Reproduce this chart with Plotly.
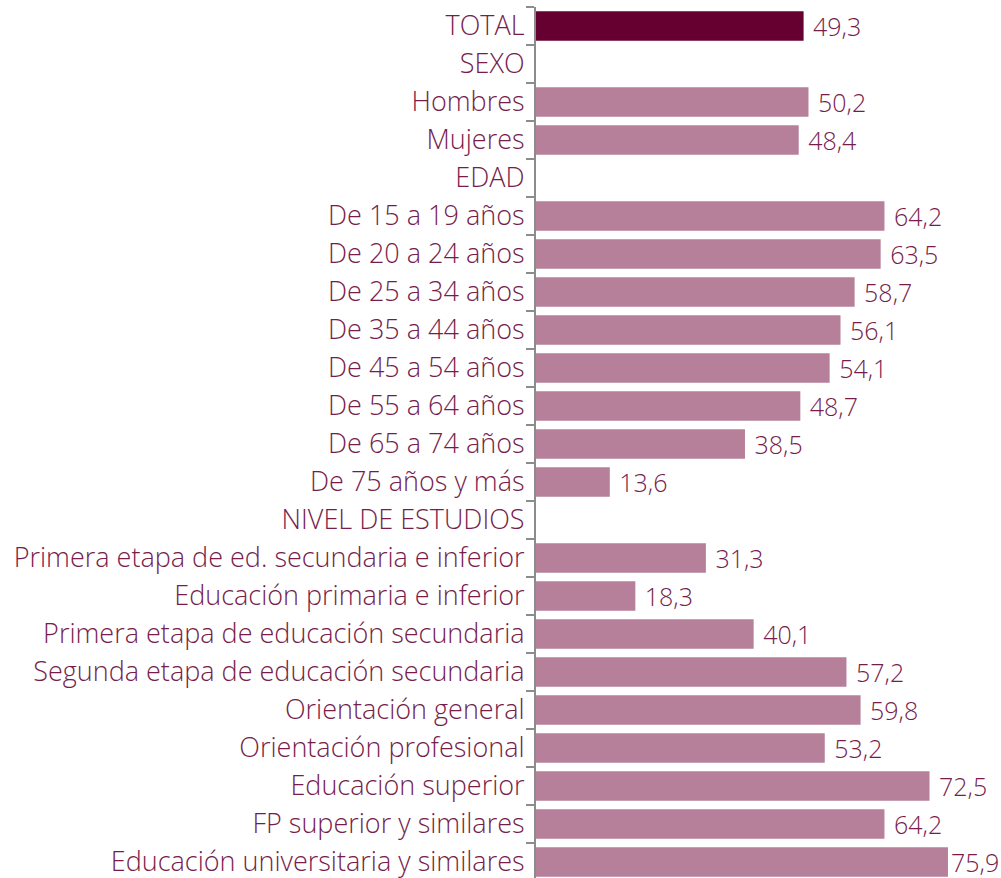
import plotly.graph_objects as go

categories = [
    "TOTAL", "SEXO", "Hombres", "Mujeres", "EDAD",
    "De 15 a 19 años", "De 20 a 24 años", "De 25 a 34 años", "De 35 a 44 años",
    "De 45 a 54 años", "De 55 a 64 años", "De 65 a 74 años", "De 75 años y más",
    "NIVEL DE ESTUDIOS",
    "Primera etapa de ed. secundaria e inferior",
    "Educación primaria e inferior",
    "Primera etapa de educación secundaria",
    "Segunda etapa de educación secundaria",
    "Orientación general",
    "Orientación profesional",
    "Educación superior",
    "FP superior y similares",
    "Educación universitaria y similares",
]
values = [
    49.3, None, 50.2, 48.4, None,
    64.2, 63.5, 58.7, 56.1, 54.1, 48.7, 38.5, 13.6,
    None,
    31.3, 18.3, 40.1, 57.2, 59.8, 53.2, 72.5, 64.2, 75.9,
]

TEXT = "#761d4c"
BAR = "#b6809a"
TOTAL = "#650030"

colors = [TOTAL if c == "TOTAL" else BAR for c in categories]
vmax = max(v for v in values if v is not None)
labels = []
for v in values:
    if v is None:
        labels.append("")
    else:
        s = f"{v:.1f}".replace(".", ",")
        # the longest bar's label sits right against the bar end
        labels.append(s if v == vmax else " " + s)

fig = go.Figure()
fig.add_trace(
    go.Bar(
        x=values,
        y=categories,
        orientation="h",
        marker=dict(color=colors, line=dict(width=0)),
        text=labels,
        textposition="outside",
        constraintext="none",
        textfont=dict(color=TEXT, size=25, weight=300),
        cliponaxis=False,
        hoverinfo="skip",
    )
)

fig.update_layout(
    width=1001,
    height=878,
    margin=dict(l=536, r=0, t=7, b=0),
    plot_bgcolor="white",
    paper_bgcolor="white",
    font=dict(family="Open Sans, sans-serif", color=TEXT, size=27, weight=300),
    bargap=0.22,
    showlegend=False,
    xaxis=dict(
        range=[0, 85.67],
        visible=False,
    ),
    yaxis=dict(
        type="category",
        categoryorder="array",
        categoryarray=categories,
        range=[22.42, -0.5],
        showline=True,
        linecolor="#8c8c8c",
        linewidth=2,
        ticks="outside",
        tickson="boundaries",
        ticklen=8,
        tickcolor="#8c8c8c",
        tickwidth=2,
        showgrid=False,
        tickfont=dict(color=TEXT, size=27, weight=300),
        ticklabelstandoff=4,
    ),
)

# drop the browser's default body margin so the figure fills the window exactly
fig.write_html(
    "out.html",
    config={"displayModeBar": False},
    post_script="document.body.style.margin='0';document.body.style.overflow='hidden';",
)
